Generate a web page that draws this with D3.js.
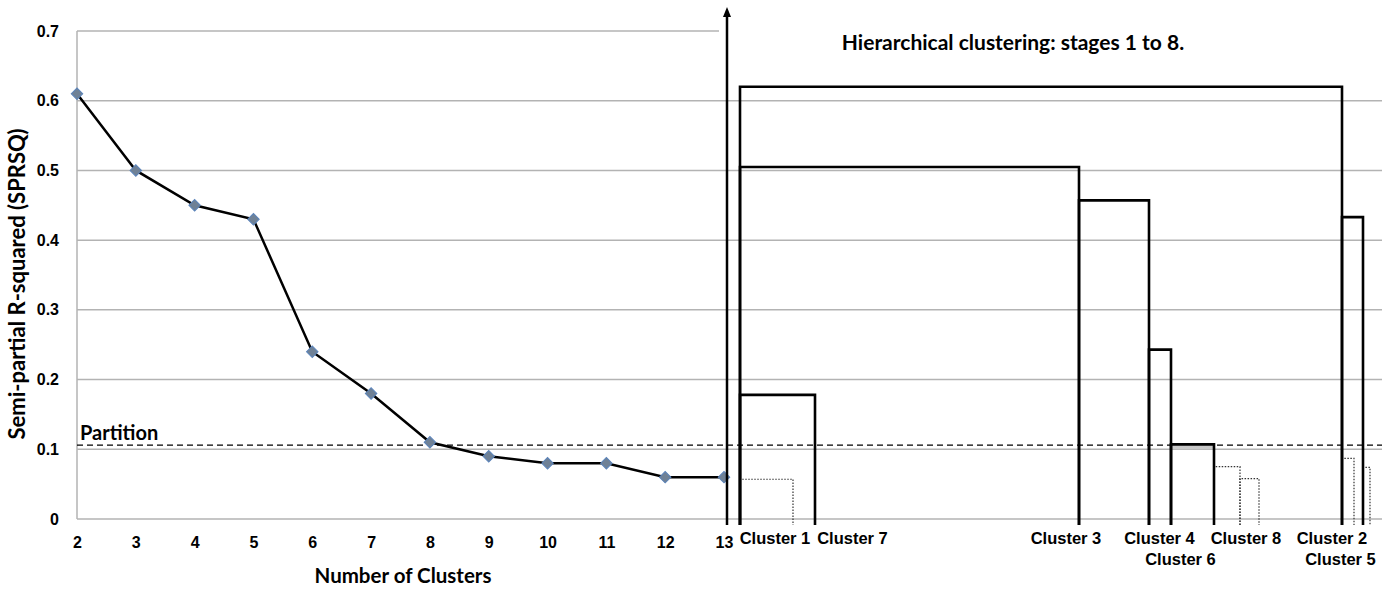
<!DOCTYPE html>
<meta charset="utf-8">
<script src="https://d3js.org/d3.v7.min.js"></script>
<style>
	body{
		margin:0;
		background:#fff;
		font-family:'Liberation Sans', Arial, sans-serif;
	}
	.calib{
		font-family:Lato, 'Open Sans', sans-serif;
		font-weight:700;
	}
	.tickLabel{
		font-size:16px;
		font-weight:700;
	}
	.leafLabel{
		font-size:16.5px;
		font-weight:700;
	}
</style>
<div id="chart"></div>
<script>

	// scree plot: semi-partial R-squared by number of clusters
	var clusterCounts = [2,3,4,5,6,7,8,9,10,11,12,13]
	var sprsq = [0.61,0.50,0.45,0.43,0.24,0.18,0.11,0.09,0.08,0.08,0.06,0.06]
	var yTicks = [0,0.1,0.2,0.3,0.4,0.5,0.6,0.7]
	var partition = 0.106

	// dendrogram, horizontal positions in leaf units (0 = Cluster 1)
	// each merge: left branch, right branch, height
	var mergeLeft   = [0,    0,     33.9,  40.9,  43.1,  0,     60.2]
	var mergeRight  = [60.2, 33.9,  40.9,  43.1,  47.4,  7.5,   62.3]
	var mergeHeight = [0.62, 0.505, 0.457, 0.243, 0.107, 0.178, 0.433]

	// sub-partition merges (dotted)
	var subLeft   = [0,     47.4,  50,    60.2,  62.3]
	var subRight  = [5.3,   50,    51.9,  61.4,  63]
	var subHeight = [0.057, 0.075, 0.058, 0.087, 0.074]

	var leafNames = ["Cluster 1","Cluster 7","Cluster 3","Cluster 4","Cluster 6","Cluster 8","Cluster 2","Cluster 5"]
	var leafPos   = [3.5, 11.25, 32.6, 41.95, 44.05, 50.6, 59.2, 60.05]
	var leafRow   = [0,0,0,0,1,0,0,1]

	var w = 1399
	var h = 592
	var svg = d3.select("#chart").append("svg")
		.attr("width",w)
		.attr("height",h)

	var x = d3.scaleLinear().domain([2,13]).range([77,724])
	var y = d3.scaleLinear().domain([0,0.7]).range([519,31])
	var xD = d3.scaleLinear().domain([0,64]).range([740,1380])
	var rightEdge = 1382

	// gridlines
	svg.append("g")
		.selectAll("line")
		.data(yTicks)
		.join("line")
		.attr("x1",x(2))
		.attr("x2",function(d){ return d==0.7 ? 719 : rightEdge })
		.attr("y1",function(d){ return y(d) })
		.attr("y2",function(d){ return y(d) })
		.attr("stroke","#b3b3b3")
		.attr("stroke-width",1.5)

	svg.append("line")
		.attr("x1",x(2)).attr("x2",x(2))
		.attr("y1",y(0.7)).attr("y2",y(0))
		.attr("stroke","#b3b3b3")
		.attr("stroke-width",1.5)

	// y axis labels
	var yAxis = svg.append("g")
		.attr("transform","translate(59,0)")
		.call(d3.axisLeft(y).tickValues(yTicks).tickSize(0).tickPadding(0)
			.tickFormat(function(d){ return d==0 ? "0" : d3.format(".1f")(d) }))
	yAxis.select(".domain").remove()
	yAxis.selectAll("text").attr("class","tickLabel").attr("fill","#000")
		.style("font-family","'Liberation Sans', Arial, sans-serif")

	// x axis labels
	var xAxis = svg.append("g")
		.attr("transform","translate(0,537)")
		.call(d3.axisBottom(x).tickValues(clusterCounts).tickSize(0).tickPadding(0)
			.tickFormat(d3.format("d")))
	xAxis.select(".domain").remove()
	xAxis.selectAll("text").attr("class","tickLabel").attr("fill","#000")
		.style("font-family","'Liberation Sans', Arial, sans-serif")

	svg.append("text").attr("class","calib")
		.text("Number of Clusters")
		.attr("x",403).attr("y",583)
		.attr("text-anchor","middle")
		.style("font-size","20.5px")

	svg.append("text").attr("class","calib")
		.text("Semi-partial R-squared (SPRSQ)")
		.attr("transform","translate(25,284) rotate(-90)")
		.attr("text-anchor","middle")
		.style("font-size","22px")

	// partition line
	svg.append("line")
		.attr("x1",x(2)).attr("x2",rightEdge)
		.attr("y1",y(partition)).attr("y2",y(partition))
		.attr("stroke","#000")
		.attr("stroke-width",1.2)
		.attr("stroke-dasharray","6,4")

	svg.append("text").attr("class","calib")
		.text("Partition")
		.attr("x",80).attr("y",y(partition)-5)
		.style("font-size","20px")

	// scree line + markers
	var pts = clusterCounts.map(function(c,i){ return [c,sprsq[i]] })
	svg.append("path")
		.datum(pts)
		.attr("d",d3.line().x(function(d){ return x(d[0]) }).y(function(d){ return y(d[1]) }))
		.attr("fill","none")
		.attr("stroke","#000")
		.attr("stroke-width",2.5)

	svg.append("g")
		.selectAll("path")
		.data(pts)
		.join("path")
		.attr("d",d3.symbol().type(d3.symbolSquare).size(66))
		.attr("transform",function(d){ return "translate("+x(d[0])+","+y(d[1])+") rotate(45)" })
		.attr("fill","#6f8196")
		.attr("stroke","#5b84bb")
		.attr("stroke-width",1)

	// gray shading just under the partition at cluster 6/8 merge
	svg.append("rect")
		.attr("x",xD(43.1)).attr("width",xD(47.4)-xD(43.1))
		.attr("y",y(0.107)).attr("height",y(0.1)-y(0.107))
		.attr("fill","#c8c8c8")

	var below = 6
	function mergePath(a,b,hgt){
		return "M"+xD(a)+","+(y(0)+below)+"L"+xD(a)+","+y(hgt)+"L"+xD(b)+","+y(hgt)+"L"+xD(b)+","+(y(0)+below)
	}

	// dotted sub merges
	svg.append("g")
		.selectAll("path")
		.data(subLeft)
		.join("path")
		.attr("d",function(d,i){ return mergePath(subLeft[i],subRight[i],subHeight[i]) })
		.attr("fill","none")
		.attr("stroke","#333")
		.attr("stroke-width",1.2)
		.attr("stroke-dasharray","1.5,1.5")

	// solid merges
	svg.append("g")
		.selectAll("path")
		.data(mergeLeft)
		.join("path")
		.attr("d",function(d,i){ return mergePath(mergeLeft[i],mergeRight[i],mergeHeight[i]) })
		.attr("fill","none")
		.attr("stroke","#000")
		.attr("stroke-width",2.6)

	// leaf labels
	svg.append("g")
		.selectAll("text")
		.data(leafNames)
		.join("text")
		.attr("class","leafLabel")
		.text(function(d){ return d })
		.attr("x",function(d,i){ return xD(leafPos[i]) })
		.attr("y",function(d,i){ return 544+leafRow[i]*21 })
		.attr("text-anchor","middle")

	// vertical arrow separating the two panels
	svg.append("defs").append("marker")
		.attr("id","arrow")
		.attr("viewBox","0 0 10 10")
		.attr("refX",5).attr("refY",5)
		.attr("markerWidth",4).attr("markerHeight",4)
		.attr("orient","auto")
		.append("path").attr("d","M0,1L10,5L0,9Z").attr("fill","#000")

	svg.append("line")
		.attr("x1",727).attr("x2",727)
		.attr("y1",y(0)+below).attr("y2",12)
		.attr("stroke","#000")
		.attr("stroke-width",2.5)
		.attr("marker-end","url(#arrow)")

	svg.append("text").attr("class","calib")
		.text("Hierarchical clustering: stages 1 to 8.")
		.attr("x",1013).attr("y",50)
		.attr("text-anchor","middle")
		.style("font-size","21px")

</script>
